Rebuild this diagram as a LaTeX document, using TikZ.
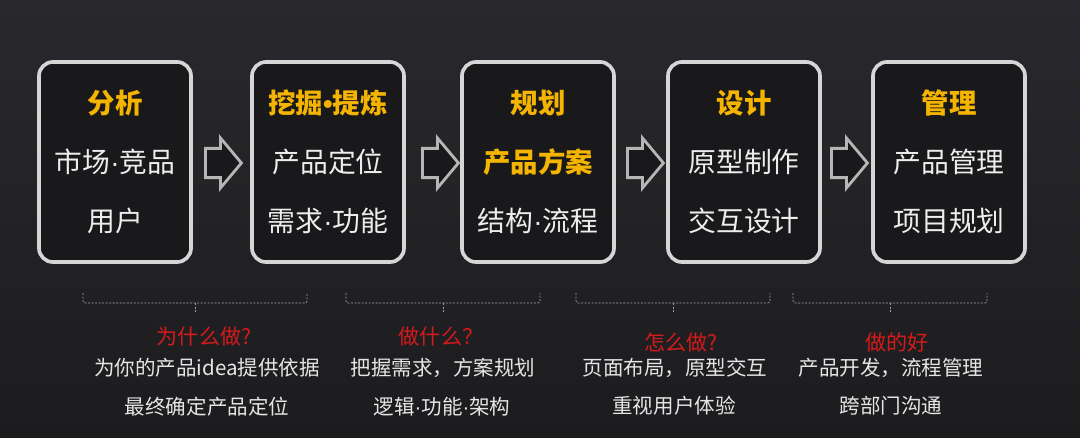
\documentclass[tikz,border=0pt]{standalone}
\usepackage{fontspec}
\newfontfamily\cjk{Noto Sans CJK SC}
\newfontfamily\latin{Liberation Sans}
\usepackage{tikz}
\usetikzlibrary{shapes.arrows}
\definecolor{bgtop}{HTML}{29292D}
\definecolor{bgbot}{HTML}{1C1C1F}
\definecolor{boxfill}{HTML}{19191B}
\definecolor{frame}{HTML}{D6D6D6}
\definecolor{gold}{HTML}{F5B400}
\definecolor{redtext}{HTML}{D41A1A}
\newcommand\md{{\latin ·}}
\newcommand\bd{{\latin\bfseries •}}
\tikzstyle{stage}=[rectangle,rounded corners=0.35cm,draw=frame,line width=2.6pt,fill=boxfill,minimum width=3.8cm,minimum height=5cm]
\tikzstyle{head}=[font=\cjk\bfseries\fontsize{19.5}{22}\selectfont,text=gold]
\tikzstyle{item}=[font=\cjk\fontsize{19.8}{23}\selectfont,text=white!93!black]
\tikzstyle{flow}=[single arrow,anchor=tail,draw=frame!85!black,line width=2pt,fill=boxfill,inner xsep=0pt,inner ysep=0.33cm,single arrow head extend=0.26cm,single arrow tip angle=100,minimum height=0.9cm]
\tikzstyle{why}=[font=\cjk\fontsize{15}{18}\selectfont,text=redtext]
\tikzstyle{note}=[font=\cjk\fontsize{14.6}{17}\selectfont,text=white!90!black]
\tikzstyle{brace}=[draw=gray!75,line width=0.5pt,dash pattern=on 1.5pt off 1pt]

\begin{document}
\begin{tikzpicture}[x=0.025cm,y=-0.025cm]
        \shade[top color=bgtop,bottom color=bgbot] (0,0) rectangle (1080,437);
        \useasboundingbox (0,0) rectangle (1080,437);

        % the five stages
        \node at (115,162) [stage] (s1) {};
        \node at (328,162) [stage] (s2) {};
        \node at (538,162) [stage] (s3) {};
        \node at (744,162) [stage] (s4) {};
        \node at (949,162) [stage] (s5) {};

        \node at (115,103) [head] (h1) {分析};
        \node at (115,162) [item] (a1) {市场\md 竞品};
        \node at (115,221) [item] (b1) {用户};

        \node at (328,103) [head] (h2) {挖掘\bd 提炼};
        \node at (328,162) [item] (a2) {产品定位};
        \node at (328,221) [item] (b2) {需求\md 功能};

        \node at (538,103) [head] (h3) {规划};
        \node at (538,162) [head] (a3) {产品方案};
        \node at (538,221) [item] (b3) {结构\md 流程};

        \node at (744,103) [head] (h4) {设计};
        \node at (744,162) [item] (a4) {原型制作};
        \node at (744,221) [item] (b4) {交互设计};

        \node at (949,103) [head] (h5) {管理};
        \node at (949,162) [item] (a5) {产品管理};
        \node at (949,221) [item] (b5) {项目规划};

        % block arrows
        \node at (204,163) [flow] (f1) {};
        \node at (421,163) [flow] (f2) {};
        \node at (626,163) [flow] (f3) {};
        \node at (830,163) [flow] (f4) {};

        % braces
        \draw [brace,rounded corners=1.5] (83,293) -- (83,303) -- (307,303) -- (307,293);
        \draw [brace] (195,303) -- (195,313);
        \draw [brace,rounded corners=1.5] (346,293) -- (346,303) -- (540,303) -- (540,293);
        \draw [brace] (443,303) -- (443,313);
        \draw [brace,rounded corners=1.5] (576,293) -- (576,303) -- (770,303) -- (770,293);
        \draw [brace] (673,303) -- (673,313);
        \draw [brace,rounded corners=1.5] (793,293) -- (793,303) -- (987,303) -- (987,293);
        \draw [brace] (890,303) -- (890,313);

        % notes
        \node at (204,336) [why]  (w1) {为什么做?};
        \node at (207,368) [note] (n1) {为你的产品idea提供依据};
        \node at (207,407) [note] (m1) {最终确定产品定位};

        \node at (441,336) [why]  (w2) {做什么？};
        \node at (443,368) [note] (n2) {把握需求，方案规划};
        \node at (442,407) [note] (m2) {逻辑\md 功能\md 架构};

        \node at (681,342) [why]  (w3) {怎么做?};
        \node at (675,368) [note] (n3) {页面布局，原型交互};
        \node at (674,406) [note] (m3) {重视用户体验};

        \node at (897,342) [why]  (w4) {做的好};
        \node at (891,368) [note] (n4) {产品开发，流程管理};
        \node at (891,406) [note] (m4) {跨部门沟通};
\end{tikzpicture}
\end{document}
